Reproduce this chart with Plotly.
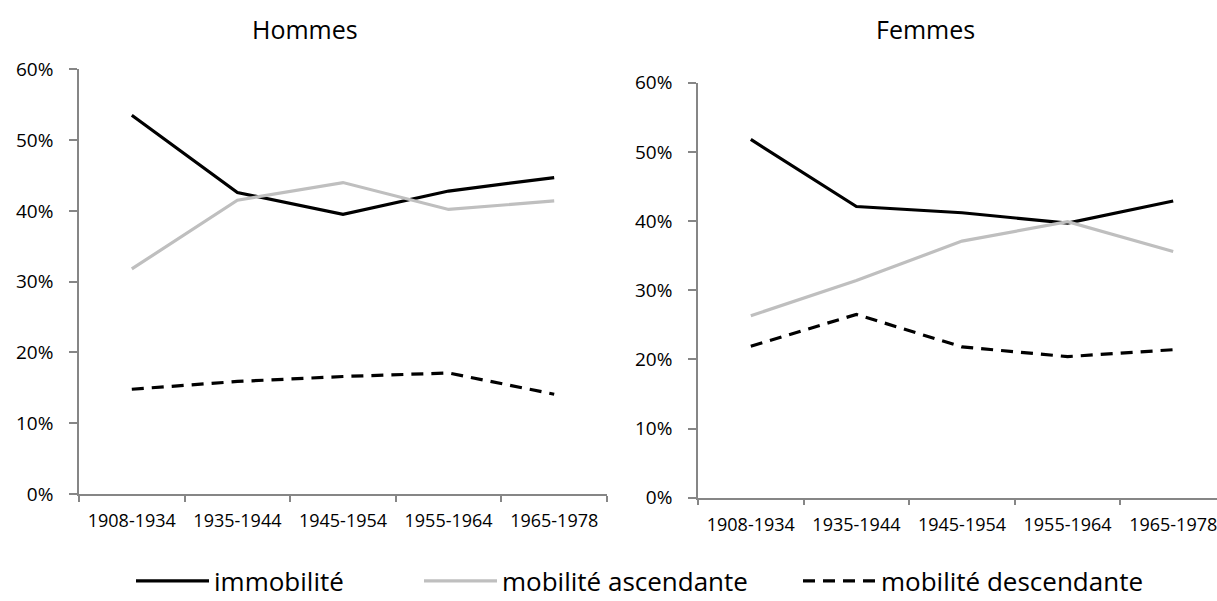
import plotly.graph_objects as go

categories = ["1908-1934", "1935-1944", "1945-1954", "1955-1964", "1965-1978"]

hommes_immobilite = [0.535, 0.426, 0.395, 0.428, 0.447]
hommes_ascendante = [0.318, 0.415, 0.440, 0.402, 0.414]
hommes_descendante = [0.148, 0.159, 0.166, 0.171, 0.141]

femmes_immobilite = [0.518, 0.421, 0.412, 0.397, 0.429]
femmes_ascendante = [0.263, 0.314, 0.371, 0.399, 0.356]
femmes_descendante = [0.219, 0.265, 0.218, 0.204, 0.214]

series_names = ["immobilité", "mobilité ascendante", "mobilité descendante"]
panel_titles = ["Hommes", "Femmes"]

FONT = "Open Sans"
W, H = 1217, 601

styles = [
    dict(color="#000000", width=3.2, dash="solid"),
    dict(color="#BFBFBF", width=3.2, dash="solid"),
    dict(color="#000000", width=3.2, dash="12px,8px"),
]
legend_ids = ["legend", "legend2", "legend3"]

fig = go.Figure()

panels = [
    ("x", "y", [hommes_immobilite, hommes_ascendante, hommes_descendante], True),
    ("x2", "y2", [femmes_immobilite, femmes_ascendante, femmes_descendante], False),
]
for xa, ya, data, show in panels:
    for name, vals, st, lg in zip(series_names, data, styles, legend_ids):
        fig.add_trace(go.Scatter(
            x=categories, y=vals, mode="lines", name=name,
            line=st, xaxis=xa, yaxis=ya, showlegend=show, legend=lg,
            hoverinfo="skip",
        ))

axis_color = "#868686"
common_x = dict(
    type="category", tickson="boundaries", ticks="outside", ticklen=6,
    tickcolor=axis_color, tickwidth=1.5, showline=True, linecolor=axis_color, linewidth=1.5,
    showgrid=False, zeroline=False, ticklabelstandoff=10,
    tickfont=dict(family=FONT, size=18, color="#000000"),
)
common_y = dict(
    range=[0, 0.6], dtick=0.1, tickformat=".0%", ticks="outside", ticklen=8,
    tickcolor=axis_color, tickwidth=1.5, showline=True, linecolor=axis_color, linewidth=1.5,
    showgrid=False, zeroline=False, ticklabelstandoff=12,
    tickfont=dict(family=FONT, size=19, color="#000000"),
)

# left panel pixel layout
lx0, lx1, ly0, ly1 = 79, 607, 494, 69.3
# right panel pixel layout (axis extends beyond the right edge)
rx0, ry0, ry1 = 698, 497.7, 82.7
step = (lx1 - lx0) / 5.0
r_end = -0.5 + (W - rx0) / step

legend_common = dict(
    orientation="h", xanchor="left", yanchor="middle", y=1 - 581 / H,
    font=dict(family=FONT, size=26, color="#000000"),
    itemwidth=73, bgcolor="rgba(0,0,0,0)", borderwidth=0,
)

fig.update_layout(
    width=W, height=H,
    margin=dict(l=0, r=0, t=0, b=0, autoexpand=False),
    paper_bgcolor="white", plot_bgcolor="white",
    xaxis=dict(common_x, domain=[lx0 / W, lx1 / W], range=[-0.5, 4.5], anchor="y"),
    yaxis=dict(common_y, domain=[1 - ly0 / H, 1 - ly1 / H], anchor="x"),
    xaxis2=dict(common_x, domain=[rx0 / W, 1.0], range=[-0.5, r_end], anchor="y2"),
    yaxis2=dict(common_y, domain=[1 - ry0 / H, 1 - ry1 / H], anchor="x2"),
    legend=dict(legend_common, x=131 / W),
    legend2=dict(legend_common, x=419 / W),
    legend3=dict(legend_common, x=798 / W),
    showlegend=True,
)

fig.add_annotation(text=panel_titles[0], x=305 / W, y=1 - 29 / H, xref="paper", yref="paper",
                   xanchor="center", yanchor="middle",
                   showarrow=False, font=dict(family=FONT, size=25, color="#000000"))
fig.add_annotation(text=panel_titles[1], x=925 / W, y=1 - 29 / H, xref="paper", yref="paper",
                   xanchor="center", yanchor="middle",
                   showarrow=False, font=dict(family=FONT, size=25, color="#000000"))

fig.write_html(
    "out.html",
    config={"displayModeBar": False},
    post_script="document.body.style.margin='0px';document.body.style.overflow='hidden';",
)
